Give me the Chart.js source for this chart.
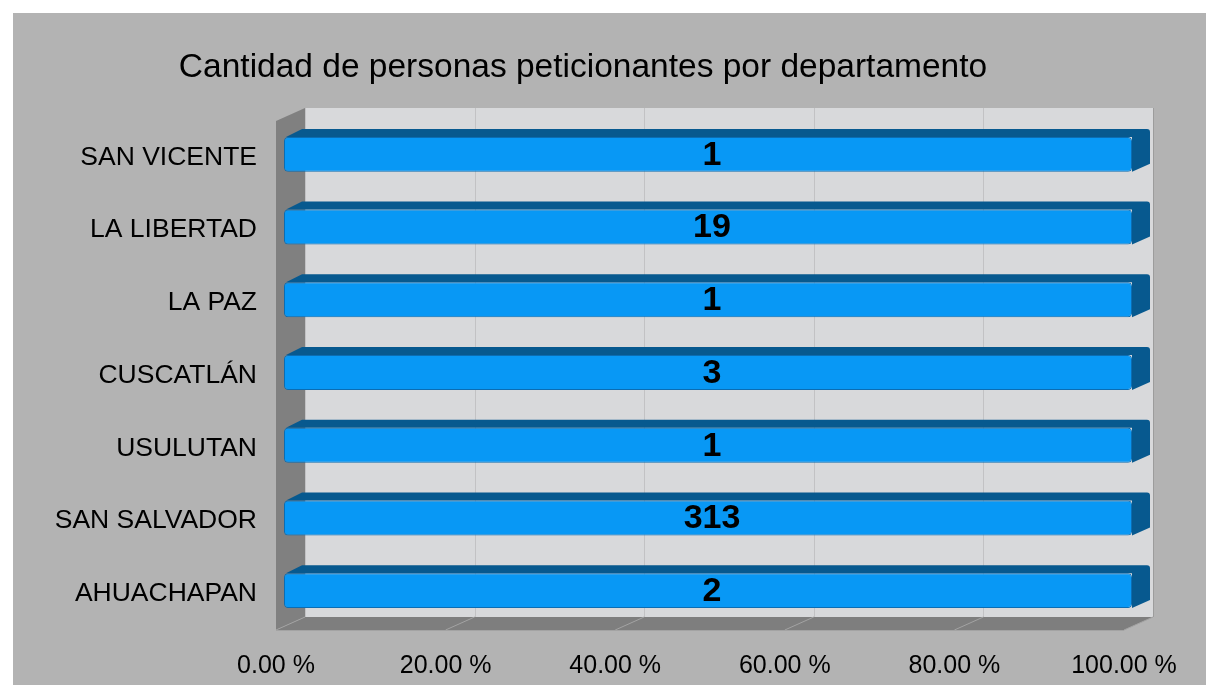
<!DOCTYPE html>
<html>
<head>
<meta charset="utf-8">
<script src="https://cdn.jsdelivr.net/npm/chart.js@4.4.1/dist/chart.umd.min.js"></script>
<style>
  html, body { margin: 0; padding: 0; background: #fff; }
  #wrap { position: absolute; left: 0; top: 0; width: 1206px; height: 685px; }
</style>
</head>
<body>
<div id="wrap"><canvas id="deptChart" width="1206" height="685"></canvas></div>
<script>
// data
const departments = ["SAN VICENTE", "LA LIBERTAD", "LA PAZ", "CUSCATLÁN", "USULUTAN", "SAN SALVADOR", "AHUACHAPAN"];
const peticionantes = [1, 19, 1, 3, 1, 313, 2];
const percentTicks = [0, 20, 40, 60, 80, 100];
const chartTitle = "Cantidad de personas peticionantes por departamento";

// 100% stacked bar: each row is shown as its share of the row total (one series only)
const allSeries = [peticionantes];
const rowTotals = departments.map((_, i) => allSeries.reduce((s, arr) => s + arr[i], 0));
const shares = peticionantes.map((v, i) => v / rowTotals[i] * 100);

const WALL = { dx: 29, dy: -13 };                       // depth of side wall / floor
const BAR = { dx: 8, dy: -3, depthX: 18, depthY: -8 };  // bar position + depth
const FONT = "'Liberation Sans', Arial, sans-serif";

// draws the fake 3D box, bar depth faces, value labels and the title
const threeD = {
  id: "threeD",
  beforeDraw(chart) {
    const { ctx, chartArea: a, scales: { x } } = chart;
    ctx.save();
    ctx.fillStyle = "#b3b3b3";
    ctx.fillRect(13, 13, chart.width - 13, chart.height - 13);

    // back wall
    ctx.fillStyle = "#d8d9db";
    ctx.fillRect(a.left + WALL.dx, a.top + WALL.dy, a.width, a.height);

    ctx.lineWidth = 1;
    ctx.strokeStyle = "#c2c2c4";
    x.ticks.forEach(t => {
      const px = Math.round(x.getPixelForValue(t.value) + WALL.dx) + 0.5;
      ctx.beginPath();
      ctx.moveTo(px, a.top + WALL.dy);
      ctx.lineTo(px, a.bottom + WALL.dy);
      ctx.stroke();
    });
    ctx.strokeStyle = "#9c9c9c";
    ctx.beginPath();
    ctx.moveTo(Math.round(a.right + WALL.dx) + 0.5, a.top + WALL.dy);
    ctx.lineTo(Math.round(a.right + WALL.dx) + 0.5, a.bottom + WALL.dy);
    ctx.stroke();

    // side wall
    ctx.fillStyle = "#808080";
    ctx.beginPath();
    ctx.moveTo(a.left, a.top);
    ctx.lineTo(a.left + WALL.dx, a.top + WALL.dy);
    ctx.lineTo(a.left + WALL.dx, a.bottom + WALL.dy);
    ctx.lineTo(a.left, a.bottom);
    ctx.closePath();
    ctx.fill();

    // floor
    ctx.fillStyle = "#7e7e7e";
    ctx.beginPath();
    ctx.moveTo(a.left, a.bottom);
    ctx.lineTo(a.right, a.bottom);
    ctx.lineTo(a.right + WALL.dx, a.bottom + WALL.dy);
    ctx.lineTo(a.left + WALL.dx, a.bottom + WALL.dy);
    ctx.closePath();
    ctx.fill();

    ctx.strokeStyle = "#a3a3a3";
    x.ticks.forEach(t => {
      const px = x.getPixelForValue(t.value);
      ctx.beginPath();
      ctx.moveTo(px, a.bottom);
      ctx.lineTo(px + WALL.dx, a.bottom + WALL.dy);
      ctx.stroke();
    });
    ctx.beginPath();
    ctx.moveTo(a.left, a.bottom + 0.5);
    ctx.lineTo(a.right, a.bottom + 0.5);
    ctx.stroke();
    ctx.restore();
  },
  beforeDatasetsDraw(chart) {
    const ctx = chart.ctx;
    ctx.save();
    ctx.translate(BAR.dx, BAR.dy);
    chart.getDatasetMeta(0).data.forEach(bar => {
      const { x, y, base, height } = bar.getProps(["x", "y", "base", "height"], true);
      const top = y - height / 2, bottom = y + height / 2;
      ctx.fillStyle = "#07598f";
      ctx.beginPath();
      ctx.moveTo(base + 2, top);
      ctx.lineTo(base + BAR.depthX, top + BAR.depthY);
      ctx.lineTo(x + BAR.depthX - 3, top + BAR.depthY);
      ctx.quadraticCurveTo(x + BAR.depthX, top + BAR.depthY, x + BAR.depthX, top + BAR.depthY + 3);
      ctx.lineTo(x + BAR.depthX, bottom + BAR.depthY);
      ctx.lineTo(x, bottom);
      ctx.lineTo(x, top);
      ctx.closePath();
      ctx.fill();
    });
  },
  afterDatasetsDraw(chart) {
    const ctx = chart.ctx;
    ctx.restore();
    ctx.save();
    ctx.fillStyle = "#000";
    ctx.textAlign = "center";
    ctx.textBaseline = "middle";
    ctx.font = "bold 34px " + FONT;
    chart.getDatasetMeta(0).data.forEach((bar, i) => {
      const { x, y, base } = bar.getProps(["x", "y", "base"], true);
      ctx.fillText(String(peticionantes[i]), (x + base) / 2 + BAR.dx + 4, y + BAR.dy + 1);
    });
    ctx.font = "33.5px " + FONT;
    ctx.fillText(chartTitle, 583, 68);
    ctx.restore();
  }
};

const ctxDept = document.getElementById("deptChart").getContext("2d");
const deptChart = new Chart(ctxDept, {
  type: "bar",
  data: {
    labels: departments,
    datasets: [
      {
        label: "Peticionantes",
        data: shares,
        backgroundColor: "#0898f5",
        borderColor: "#0b6db3",
        borderWidth: 1,
        borderRadius: 4,
        borderSkipped: false,
        categoryPercentage: 1,
        barPercentage: 0.48,
        clip: false,
      },
    ],
  },
  options: {
    indexAxis: "y",
    responsive: false,
    animation: false,
    devicePixelRatio: 1,
    layout: { padding: { top: 121, right: 82, left: 0, bottom: 0 } },
    plugins: {
      legend: { display: false },
      title: { display: false },
      tooltip: { enabled: false },
    },
    scales: {
      x: {
        type: "linear",
        stacked: true,
        min: 0,
        max: 100,
        afterBuildTicks: scale => { scale.ticks = percentTicks.map(v => ({ value: v })); },
        afterFit: scale => { scale.height = 55; },
        grid: { display: false, drawTicks: false },
        border: { display: false },
        ticks: {
          padding: 21,
          color: "#000",
          font: { family: FONT, size: 25 },
          maxRotation: 0,
          callback: v => v.toFixed(2) + " %",
        },
      },
      y: {
        stacked: true,
        afterFit: scale => { scale.width = 276; },
        grid: { display: false, drawTicks: false },
        border: { display: false },
        ticks: {
          padding: 19,
          color: "#000",
          font: { family: FONT, size: 26.5 },
        },
      },
    },
  },
  plugins: [threeD],
});
</script>
</body>
</html>
